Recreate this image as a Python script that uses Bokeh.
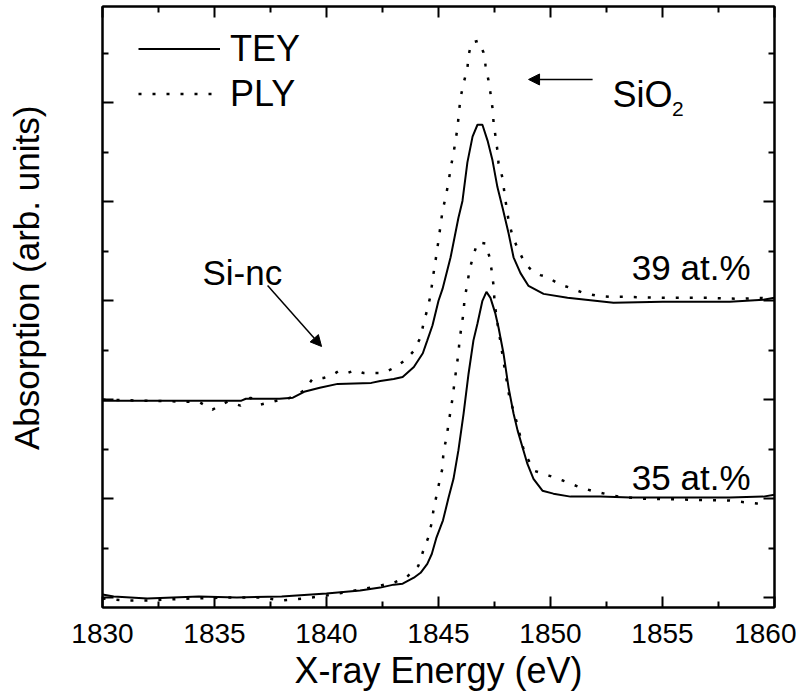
from bokeh.plotting import figure
from bokeh.models import (Range1d, LinearAxis, FixedTicker, Label, Arrow,
                          NormalHead, Legend, LegendItem, CustomJSTickFormatter)
from bokeh.embed import file_html
from bokeh.resources import INLINE

# ---------------- data ----------------
x_major = [1830, 1835, 1840, 1845, 1850, 1855, 1860]
x_minor = [1832.5, 1837.5, 1842.5, 1847.5, 1852.5, 1857.5]
y_major = [0, 1, 2, 3, 4, 5]
y_minor = [0.5, 1.5, 2.5, 3.5, 4.5, 5.5]

# 39 at.% sample (upper pair)
x_tey_39 = [1830.0, 1833.0, 1836.2, 1836.4, 1837.9, 1838.5, 1839.0, 1839.7, 1840.5, 1842.0,
            1842.4, 1843.0, 1843.4, 1843.9, 1844.3, 1844.5, 1844.73, 1845.0, 1845.18, 1845.54,
            1845.89, 1846.07, 1846.29, 1846.52, 1846.74, 1846.96, 1847.19, 1847.41, 1847.63, 1847.86,
            1848.13, 1848.35, 1848.66, 1849.02, 1849.69, 1850.76, 1852.81, 1855.0, 1858.0, 1859.5,
            1860.0]
y_tey_39 = [1.99, 1.99, 1.99, 2.01, 2.01, 2.02, 2.08, 2.12, 2.16, 2.17,
            2.19, 2.21, 2.23, 2.33, 2.47, 2.60, 2.75, 3.00, 3.12, 3.44,
            3.84, 4.01, 4.40, 4.66, 4.78, 4.78, 4.62, 4.42, 4.15, 3.94,
            3.68, 3.44, 3.28, 3.15, 3.07, 3.03, 2.98, 2.99, 2.99, 3.01,
            3.03]

x_ply_39 = [1830.0, 1832.0, 1833.71, 1834.29, 1834.91, 1835.58, 1836.16, 1836.61, 1837.05, 1837.95,
            1838.26, 1838.62, 1838.97, 1839.38, 1839.87, 1840.27, 1840.54, 1840.94, 1841.29, 1841.65,
            1842.19, 1842.54, 1843.08, 1843.57, 1843.88, 1844.20, 1844.33, 1844.51, 1844.64, 1844.78,
            1844.87, 1845.00, 1845.09, 1845.18, 1845.31, 1845.45, 1845.54, 1845.67, 1845.76, 1845.85,
            1845.89, 1845.98, 1846.12, 1846.29, 1846.34, 1846.47, 1846.79, 1847.01, 1847.10, 1847.23,
            1847.32, 1847.41, 1847.46, 1847.54, 1847.63, 1847.68, 1847.86, 1847.95, 1848.04, 1848.13,
            1848.30, 1848.53, 1848.75, 1849.02, 1849.24, 1849.55, 1849.87, 1850.36, 1850.89, 1851.47,
            1852.10, 1852.68, 1853.26, 1855.0, 1857.0, 1858.5, 1859.3, 1860.0]
y_ply_39 = [2.00, 1.99, 1.98, 1.98, 1.90, 1.98, 1.94, 2.02, 1.95, 2.00,
            2.01, 2.04, 2.09, 2.21, 2.22, 2.25, 2.29, 2.27, 2.30, 2.27,
            2.27, 2.27, 2.33, 2.41, 2.49, 2.63, 2.77, 2.92, 3.05, 3.28,
            3.41, 3.61, 3.76, 3.91, 4.04, 4.20, 4.34, 4.49, 4.62, 4.75,
            4.85, 5.05, 5.20, 5.35, 5.48, 5.61, 5.63, 5.51, 5.38, 5.23,
            5.10, 4.95, 4.80, 4.67, 4.52, 4.39, 4.24, 4.08, 3.94, 3.81,
            3.66, 3.53, 3.43, 3.34, 3.29, 3.26, 3.24, 3.17, 3.13, 3.08,
            3.05, 3.04, 3.04, 3.03, 3.03, 3.02, 3.03, 3.02]

# 35 at.% sample (lower pair)
x_tey_35 = [1830.0, 1830.5, 1832.0, 1834.3, 1836.0, 1838.0, 1840.0, 1841.5, 1842.4, 1843.0,
            1843.4, 1843.9, 1844.2, 1844.5, 1844.7, 1844.9, 1845.2, 1845.45, 1845.67, 1845.89,
            1846.12, 1846.34, 1846.56, 1846.74, 1846.96, 1847.14, 1847.32, 1847.54, 1847.68, 1847.90,
            1848.13, 1848.35, 1848.53, 1848.75, 1848.97, 1849.24, 1849.64, 1850.13, 1850.89, 1852.23,
            1853.57, 1856.0, 1858.0, 1859.5, 1860.0]
y_tey_35 = [0.03, 0.01, -0.01, 0.01, 0.00, 0.01, 0.04, 0.07, 0.10, 0.13,
            0.14, 0.20, 0.25, 0.34, 0.44, 0.60, 0.78, 1.01, 1.20, 1.49,
            1.86, 2.26, 2.60, 2.77, 3.00, 3.09, 3.03, 2.87, 2.73, 2.47,
            2.12, 1.86, 1.69, 1.52, 1.35, 1.20, 1.08, 1.05, 1.02, 1.02,
            1.01, 1.01, 1.01, 1.02, 1.04]

x_ply_35 = [1830.0, 1831.0, 1832.0, 1833.0, 1834.0, 1835.6, 1836.5, 1837.1, 1838.0, 1839.0,
            1840.0, 1841.5, 1842.4, 1843.0, 1843.6, 1844.1, 1844.33, 1844.55, 1844.69, 1844.78,
            1844.91, 1845.05, 1845.18, 1845.22, 1845.36, 1845.45, 1845.54, 1845.63, 1845.71, 1845.80,
            1845.89, 1845.94, 1846.03, 1846.12, 1846.16, 1846.29, 1846.38, 1846.56, 1846.74, 1847.10,
            1847.28, 1847.37, 1847.46, 1847.50, 1847.59, 1847.77, 1847.95, 1848.17, 1848.39, 1848.66,
            1848.84, 1849.29, 1849.96, 1850.58, 1851.25, 1851.83, 1852.41, 1853.04, 1854.0, 1856.0,
            1858.0, 1859.2, 1859.6]
y_ply_35 = [-0.01, -0.03, -0.03, -0.02, -0.01, 0.00, 0.00, 0.00, -0.03, -0.01,
            0.02, 0.08, 0.12, 0.15, 0.21, 0.32, 0.48, 0.61, 0.75, 0.89,
            1.03, 1.18, 1.31, 1.47, 1.62, 1.76, 1.89, 2.02, 2.17, 2.32,
            2.47, 2.60, 2.75, 2.88, 3.02, 3.17, 3.31, 3.46, 3.59, 3.58,
            3.44, 3.31, 3.15, 3.00, 2.83, 2.58, 2.32, 2.02, 1.86, 1.62,
            1.46, 1.28, 1.23, 1.18, 1.12, 1.08, 1.05, 1.02, 1.00, 0.99,
            0.98, 0.95, 0.97]

series_labels = ["TEY", "PLY"]

# ---------------- figure ----------------
FONT = "Liberation Sans"
p = figure(frame_width=672, frame_height=601,
           x_range=Range1d(1830, 1860), y_range=Range1d(-0.1011, 5.9757),
           output_backend="svg", toolbar_location=None,
           min_border_left=102, min_border_right=22, min_border_top=6, min_border_bottom=78)
p.xgrid.visible = False
p.ygrid.visible = False
p.outline_line_color = "black"
p.outline_line_width = 2
p.background_fill_color = "white"
p.border_fill_color = "white"

xt = FixedTicker(ticks=x_major, minor_ticks=x_minor)
yt = FixedTicker(ticks=y_major, minor_ticks=y_minor)


def style(ax, labels):
    ax.axis_line_width = 2
    ax.axis_line_color = "black"
    ax.major_tick_in = 11
    ax.major_tick_out = 0
    ax.minor_tick_in = 6
    ax.minor_tick_out = 0
    ax.major_tick_line_width = 2
    ax.minor_tick_line_width = 2
    ax.major_tick_line_color = "black"
    ax.minor_tick_line_color = "black"
    if not labels:
        ax.formatter = CustomJSTickFormatter(code="return ''")
        ax.major_label_text_font_size = "0px"
        ax.major_label_standoff = 0


bx = p.xaxis[0]
bx.ticker = xt
style(bx, True)
bx.major_label_text_font = FONT
bx.major_label_text_font_size = "28px"
bx.major_label_text_color = "black"
bx.major_label_standoff = 16
bx.axis_label = "X-ray Energy (eV)"
bx.axis_label_text_font = FONT
bx.axis_label_text_font_size = "36px"
bx.axis_label_text_font_style = "normal"
bx.axis_label_text_color = "black"
bx.axis_label_standoff = 4

ly = p.yaxis[0]
ly.ticker = yt
style(ly, False)
# leading no-break spaces lift the (centred) title to where the reference has it
ly.axis_label = "\u00a0" * 6 + "Absorption (arb. units)"
ly.axis_label_text_font = FONT
ly.axis_label_text_font_size = "35px"
ly.axis_label_text_font_style = "normal"
ly.axis_label_text_color = "black"
ly.axis_label_standoff = 57

top = LinearAxis(ticker=xt)
style(top, False)
p.add_layout(top, "above")
right = LinearAxis(ticker=yt)
style(right, False)
p.add_layout(right, "right")

# ---------------- curves ----------------
r_tey39 = p.line(x_tey_39, y_tey_39, line_color="black", line_width=2)
r_ply39 = p.line(x_ply_39, y_ply_39, line_color="black", line_width=2.5, line_dash="3 11")
r_tey35 = p.line(x_tey_35, y_tey_35, line_color="black", line_width=2)
r_ply35 = p.line(x_ply_35, y_ply_35, line_color="black", line_width=2.5, line_dash="3 11")

legend = Legend(items=[LegendItem(label=series_labels[0], renderers=[r_tey39]),
                       LegendItem(label=series_labels[1], renderers=[r_ply39])],
                location=(36, 491), glyph_width=82, glyph_height=45, label_height=45,
                spacing=0, padding=0, margin=0, label_standoff=10,
                label_text_font=FONT, label_text_font_size="36px", label_text_color="black",
                background_fill_alpha=0, border_line_alpha=0)
p.add_layout(legend)

# ---------------- annotations ----------------
def note(x, y, text, size, align="left"):
    p.add_layout(Label(x=x, y=y, text=text, text_font=FONT, text_font_size=size,
                       text_align=align, text_baseline="alphabetic", text_color="black"))


note(1834.46, 3.286, "Si-nc", "35px")
note(1852.77, 5.086, "SiO", "36px")
note(1855.42, 4.944, "2", "21px")
note(1858.93, 3.337, "39 at.%", "35px", "right")
note(1858.93, 1.213, "35 at.%", "35px", "right")

p.add_layout(Arrow(end=NormalHead(size=11, fill_color="black", line_color="black", line_width=1),
                   x_start=1851.88, y_start=5.238, x_end=1849.02, y_end=5.238,
                   line_width=1.5, line_color="black"))
p.add_layout(Arrow(end=NormalHead(size=11, fill_color="black", line_color="black", line_width=1),
                   x_start=1837.37, y_start=3.155, x_end=1839.78, y_end=2.538,
                   line_width=1.5, line_color="black"))

open("out.html", "w").write(file_html(p, INLINE))
